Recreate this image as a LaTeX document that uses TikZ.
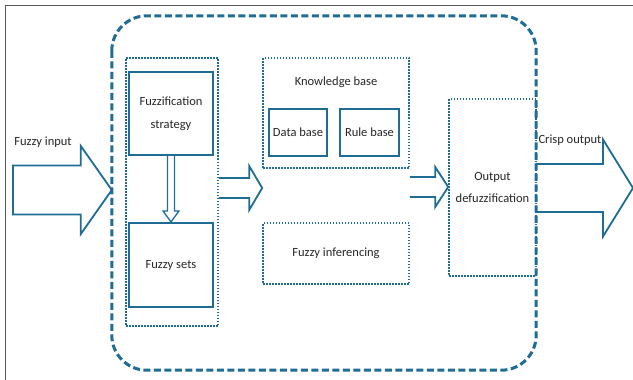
\documentclass[tikz,border=0pt]{standalone}
\usepackage{fontspec}
\setmainfont{Carlito}
\usetikzlibrary{positioning,calc}
\definecolor{fuzzblue}{RGB}{31,108,150}
\definecolor{framegray}{RGB}{90,90,90}
% hollow block arrow: [closing], from, to, shaft half width, head half width, head length
\newcommand{\blockarrow}[6][]{%
  \draw[hollow] let \p1=(#2), \p2=(#3) in
    (\x1,{\y1+#4}) -- ({\x2-#6},{\y1+#4}) -- ({\x2-#6},{\y1+#5}) -- (\x2,\y1)
    -- ({\x2-#6},{\y1-#5}) -- ({\x2-#6},{\y1-#4}) -- (\x1,{\y1-#4}) #1;}

\begin{document}
\begin{tikzpicture}[x=1pt,y=-1pt,font=\fontsize{12.5}{15}\selectfont,text=black!85,
  solidbox/.style={draw=fuzzblue,line width=2.2pt,inner sep=0pt,align=center},
  dotbox/.style={draw=fuzzblue,line width=1.6pt,dash pattern=on 1.5pt off 1.5pt,inner sep=0pt,align=center},
  hollow/.style={draw=fuzzblue,line width=1.8pt,fill=white,line join=miter}]
  \useasboundingbox (0,0) rectangle (633,380);
  \draw[framegray,line width=0.8pt] (633,5) -- (5,5) -- (5,380);

  % arrows
  \coordinate (in) at (13,190);
  \coordinate (out) at (633,188);
  \node[minimum width=424pt,minimum height=354pt,inner sep=0pt] (system) at (324,193) {};
  \blockarrow[-- cycle]{in}{system.west |- in}{24.5pt}{44pt}{31pt}
  \blockarrow{system.east |- out}{out}{24pt}{48.5pt}{30pt}

  % fuzzification
  \node[dotbox,minimum width=92pt,minimum height=268pt] (fuzzgrp) at (172,192) {};
  \node[solidbox,minimum width=84pt,minimum height=83pt] (strat) at (171,113.5) {Fuzzification\\[8pt]strategy};
  \node[solidbox,minimum width=84pt,minimum height=84pt] (fsets) at (171,265) {Fuzzy sets};
  \draw[hollow,line width=1.3pt] let \p1=(strat.south), \p2=(fsets.north) in
    ({\x1-3.5pt},\y1) -- ({\x1-3.5pt},{\y2+11pt}) -- ({\x1-8pt},{\y2+11pt}) -- (\x2,\y2)
    -- ({\x1+8pt},{\y2+11pt}) -- ({\x1+3.5pt},{\y2+11pt}) -- ({\x1+3.5pt},\y1);

  % knowledge base and inferencing
  \node[dotbox,minimum width=146pt,minimum height=110pt] (kb) at (336,113) {};
  \node (kblabel) at (336,82) {Knowledge base};
  \node[solidbox,minimum width=58pt,minimum height=47pt] (dbase) at (298,132.5) {Data base};
  \node[solidbox,minimum width=59pt,minimum height=47pt] (rbase) at (369.5,132.5) {Rule base};
  \node[dotbox,minimum width=146pt,minimum height=61pt] (infer) at (336,253.5) {Fuzzy inferencing};

  % defuzzification
  \node[dotbox,minimum width=87pt,minimum height=177pt] (defuzz) at (492.5,187.5) {Output\\[7pt]defuzzification};

  \blockarrow{fuzzgrp.east |- 0,188}{kb.west |- 0,188}{10pt}{22pt}{13pt}
  \blockarrow{kb.east |- 0,187}{defuzz.west |- 0,187}{10pt}{20pt}{13pt}

  \node (inlabel) at (43,142) {Fuzzy input};
  \node (outlabel) at (570,140) {Crisp output};

  % outer frame
  \draw[fuzzblue,line width=3pt,dash pattern=on 7pt off 3.5pt,rounded corners=35pt]
    (system.north west) rectangle (system.south east);
\end{tikzpicture}
\end{document}
